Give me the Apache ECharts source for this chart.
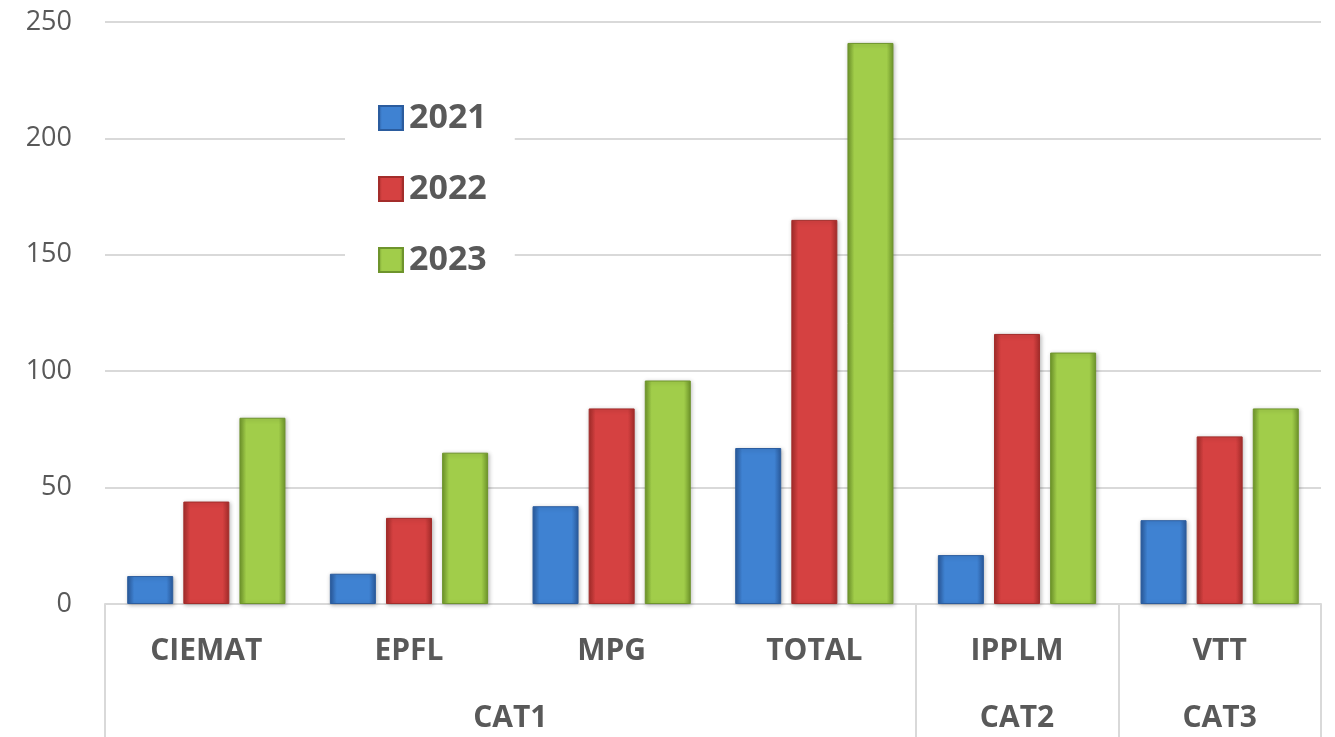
<!DOCTYPE html>
<html>
<head>
<meta charset="utf-8">
<script src="https://cdn.jsdelivr.net/npm/echarts@6/dist/echarts.min.js"></script>
<style>html,body{margin:0;padding:0;background:#fff;}#c{width:1335px;height:737px;}</style>
</head>
<body>
<div id="c"></div>
<script>
const categories = ['CIEMAT', 'EPFL', 'MPG', 'TOTAL', 'IPPLM', 'VTT'];
const groups = ['CAT1', 'CAT2', 'CAT3'];
const groupSpans = [4, 1, 1];
const seriesNames = ['2021', '2022', '2023'];
const values2021 = [12, 13, 42, 67, 21, 36];
const values2022 = [44, 37, 84, 165, 116, 72];
const values2023 = [80, 65, 96, 241, 108, 84];
const yTicks = [0, 50, 100, 150, 200, 250];

const palettes = [
  { edge: '#2a5a9c', mid: '#3f82d2', border: '#2b5c9e' },
  { edge: '#a42c2a', mid: '#d54141', border: '#a32d2b' },
  { edge: '#6f962b', mid: '#a1cd4a', border: '#6e942c' }
];
function grad(p) {
  return new echarts.graphic.LinearGradient(0, 0, 1, 0, [
    { offset: 0, color: p.edge },
    { offset: 0.15, color: p.mid },
    { offset: 0.85, color: p.mid },
    { offset: 1, color: p.edge }
  ]);
}

const bounds = [0];
groupSpans.forEach(s => bounds.push(bounds[bounds.length - 1] + s));
const centers = groupSpans.map((s, i) => bounds[i] + s / 2);

const chart = echarts.init(document.getElementById('c'));
const font = '"Open Sans", sans-serif';
const allValues = [values2021, values2022, values2023];

chart.setOption({
  animation: false,
  backgroundColor: '#fff',
  grid: { left: 105, right: 14, top: 22, bottom: 133, containLabel: false },
  legend: {
    orient: 'vertical',
    left: 345,
    top: 89,
    padding: [12, 28, 12, 33],
    backgroundColor: '#fff',
    icon: 'rect',
    itemWidth: 24,
    itemHeight: 24,
    itemGap: 37,
    z: 10,
    textStyle: { fontFamily: font, fontSize: 34, lineHeight: 30, fontWeight: 'bold', color: '#595959', padding: [0, 0, 0, 1] },
    data: seriesNames
  },
  xAxis: [
    {
      type: 'category',
      data: categories,
      axisLine: { lineStyle: { color: '#d9d9d9', width: 2 } },
      axisTick: { show: false },
      axisLabel: { margin: 32, fontFamily: font, fontSize: 30, fontWeight: 'bold', color: '#595959' }
    },
    {
      type: 'value',
      position: 'bottom',
      min: 0,
      max: categories.length,
      axisLine: { show: false },
      splitLine: { show: false },
      axisTick: { show: true, customValues: bounds, length: 140, lineStyle: { color: '#d9d9d9', width: 2 } },
      axisLabel: {
        customValues: centers,
        margin: 99,
        fontFamily: font, fontSize: 30, fontWeight: 'bold', color: '#595959',
        formatter: v => { const i = centers.indexOf(v); return i >= 0 ? groups[i] : ''; }
      }
    }
  ],
  yAxis: {
    type: 'value',
    min: yTicks[0],
    max: yTicks[yTicks.length - 1],
    interval: 50,
    axisLine: { show: false },
    axisTick: { show: false },
    splitLine: { lineStyle: { color: '#d9d9d9', width: 2 } },
    axisLabel: { margin: 33, fontFamily: font, fontSize: 27, color: '#595959' }
  },
  series: seriesNames.map((n, i) => ({
    name: n,
    type: 'bar',
    xAxisIndex: 0,
    data: allValues[i],
    barWidth: 46,
    barGap: '22%',
    itemStyle: {
      color: grad(palettes[i]),
      borderColor: palettes[i].border,
      borderWidth: 1,
      shadowColor: 'rgba(0,0,0,0.25)',
      shadowBlur: 4,
      shadowOffsetX: 1,
      shadowOffsetY: 1
    }
  }))
});
</script>
</body>
</html>
